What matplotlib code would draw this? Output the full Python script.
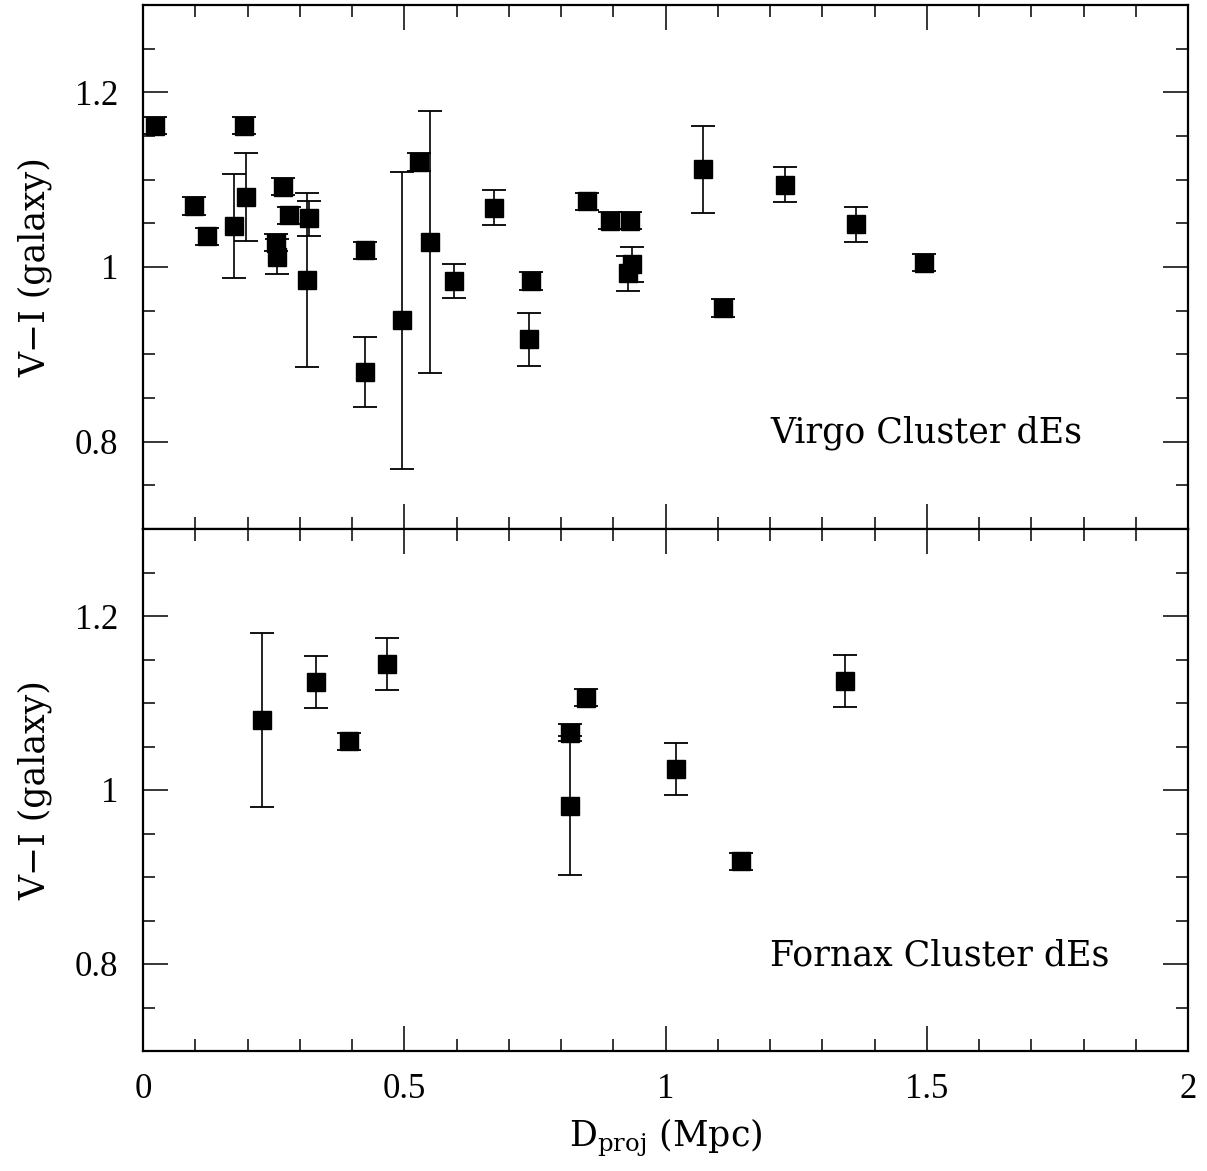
import matplotlib
matplotlib.use("Agg")
import matplotlib.pyplot as plt
from matplotlib.ticker import MultipleLocator, FixedLocator, FixedFormatter

# ---- data ----
virgo_d = [0.023, 0.098, 0.122, 0.174, 0.193, 0.197, 0.268, 0.255, 0.257, 0.279,
           0.318, 0.313, 0.425, 0.424, 0.495, 0.528, 0.549, 0.595, 0.672, 0.743,
           0.738, 0.850, 0.894, 0.933, 0.935, 0.929, 1.072, 1.110, 1.229, 1.364, 1.495]
virgo_vi = [1.162, 1.070, 1.035, 1.047, 1.162, 1.080, 1.092, 1.028, 1.012, 1.059,
            1.056, 0.985, 1.019, 0.880, 0.939, 1.120, 1.029, 0.984, 1.068, 0.984,
            0.917, 1.075, 1.053, 1.053, 1.003, 0.993, 1.112, 0.953, 1.094, 1.049, 1.005]
virgo_err = [0.010, 0.010, 0.010, 0.060, 0.010, 0.050, 0.010, 0.010, 0.020, 0.010,
             0.020, 0.100, 0.010, 0.040, 0.170, 0.010, 0.150, 0.020, 0.020, 0.010,
             0.030, 0.010, 0.010, 0.010, 0.020, 0.020, 0.050, 0.010, 0.020, 0.020, 0.010]

fornax_d = [0.228, 0.331, 0.395, 0.467, 0.818, 0.818, 0.848, 1.020, 1.144, 1.343]
fornax_vi = [1.080, 1.124, 1.056, 1.145, 1.066, 0.982, 1.106, 1.024, 0.918, 1.125]
fornax_err = [0.100, 0.030, 0.010, 0.030, 0.010, 0.080, 0.010, 0.030, 0.010, 0.030]

xticks = [0, 0.5, 1, 1.5, 2]
xticklabels = ["0", "0.5", "1", "1.5", "2"]
yticks = [0.8, 1.0, 1.2]
yticklabels = ["0.8", "1", "1.2"]

panels = [
    (virgo_d, virgo_vi, virgo_err, "Virgo Cluster dEs"),
    (fornax_d, fornax_vi, fornax_err, "Fornax Cluster dEs"),
]

plt.rcParams["mathtext.fontset"] = "custom"
plt.rcParams["mathtext.rm"] = "DejaVu Serif"

W, H = 1207, 1171
fig = plt.figure(figsize=(W / 100, H / 100), dpi=100)
left = 143 / W
width = (1188 - 143) / W
tops = [5, 529]
bots = [529, 1051]

tfont = "DejaVu Serif"
serif = "Liberation Serif"

for i, (d, vi, err, label) in enumerate(panels):
    ax = fig.add_axes([left, 1 - bots[i] / H, width, (bots[i] - tops[i]) / H])
    ax.errorbar(d, vi, yerr=err, fmt="s", color="black", markersize=12.8,
                capsize=8.5, elinewidth=1.2, capthick=1.3, ecolor="black")
    ax.set_xlim(0, 2)
    ax.set_ylim(0.7, 1.3)
    ax.xaxis.set_major_locator(FixedLocator(xticks))
    ax.xaxis.set_minor_locator(MultipleLocator(0.1))
    ax.yaxis.set_major_locator(FixedLocator(yticks))
    ax.yaxis.set_minor_locator(MultipleLocator(0.05))
    ax.yaxis.set_major_formatter(FixedFormatter(yticklabels))
    ax.xaxis.set_major_formatter(FixedFormatter(xticklabels))
    ax.tick_params(which="both", direction="in", top=True, right=True, width=1.1)
    ax.tick_params(which="major", length=18, labelsize=25)
    ax.tick_params(axis="y", which="major", pad=18)
    ax.tick_params(axis="x", which="major", pad=16)
    ax.tick_params(which="minor", length=8.5)
    for lab in ax.get_xticklabels() + ax.get_yticklabels():
        lab.set_fontfamily(serif)
    for s in ax.spines.values():
        s.set_linewidth(1.6)
    if i == 0:
        ax.tick_params(labelbottom=False)
    else:
        ax.set_xlabel(r"$\mathrm{D_{proj}\ (Mpc)}$", fontsize=25, labelpad=8)
    ax.set_ylabel("V\u2212I (galaxy)", fontsize=25, family=tfont, labelpad=16)
    ax.text(1.2, 0.81, label, fontsize=25, family=tfont, va="center", ha="left")

fig.savefig("out.png", dpi=100)
